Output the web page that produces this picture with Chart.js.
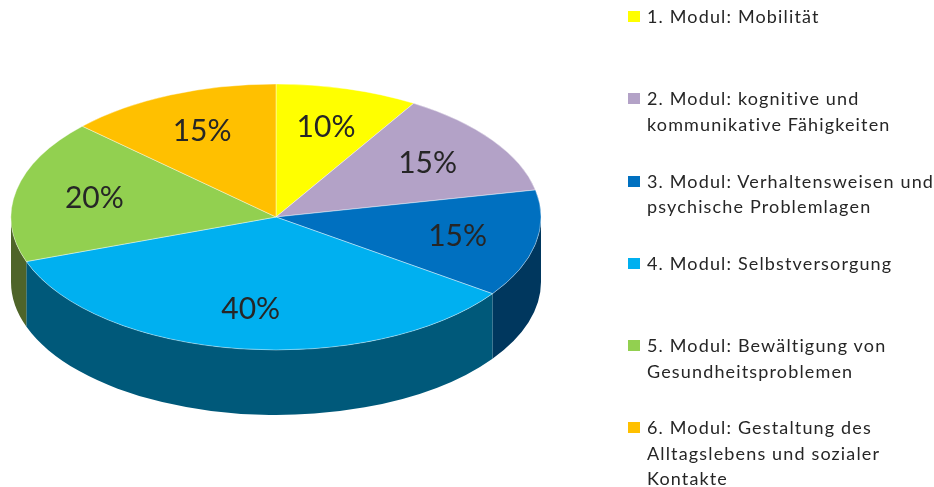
<!DOCTYPE html>
<html>
<head>
<meta charset="utf-8">
<script src="https://cdn.jsdelivr.net/npm/chart.js@4.4.1/dist/chart.umd.min.js"></script>
<style>
  html, body { margin: 0; padding: 0; background: #ffffff; }
  #wrap { position: relative; width: 934px; height: 487px; overflow: hidden; }
  #c { position: absolute; left: 0; top: 0; }
  .lg { position: absolute; left: 628px; font-family: Lato, "Open Sans", sans-serif; font-size: 18px; line-height: 25.5px; color: #262626; white-space: nowrap; letter-spacing: 1.15px; }
  .lg .sw { position: absolute; left: 0; top: 7px; width: 12px; height: 11px; }
  .lg .tx { position: absolute; left: 19px; top: 0; }
</style>
</head>
<body>
<div id="wrap">
  <canvas id="c" width="934" height="487"></canvas>
</div>
<script>
// ---- data ----
const categories = [
  ["1. Modul: Mobilität"],
  ["2. Modul: kognitive und", "kommunikative Fähigkeiten"],
  ["3. Modul: Verhaltensweisen und", "psychische Problemlagen"],
  ["4. Modul: Selbstversorgung"],
  ["5. Modul: Bewältigung von", "Gesundheitsproblemen"],
  ["6. Modul: Gestaltung des", "Alltagslebens und sozialer", "Kontakte"]
];
const values = [10, 15, 15, 40, 20, 15];
const valueLabels = ["10%", "15%", "15%", "40%", "20%", "15%"];

// ---- styles ----
const topColors  = ["#FFFF00", "#B3A2C7", "#0070C0", "#00B0F0", "#92D050", "#FFC000"];
const sideColors = ["#9A9A00", "#6B5D80", "#00375E", "#00597A", "#4E6429", "#A07800"];
const RX = 265, RY = 133, DEPTH = 65, LABEL_R = 0.7;

const pie3d = {
  id: 'pie3d',
  beforeDatasetsDraw(chart) {
    const ctx = chart.ctx;
    const meta = chart.getDatasetMeta(0);
    const a0 = meta.data[0];
    const cx = a0.x, cy = a0.y, r = a0.outerRadius;
    meta.data.forEach((arc, i) => {
      const s = Math.max(arc.startAngle, 0);
      const e = Math.min(arc.endAngle, Math.PI);
      if (e <= s) return;
      ctx.save();
      ctx.beginPath();
      ctx.ellipse(cx, cy, RX, RY, 0, s, e, false);
      ctx.ellipse(cx, cy + DEPTH, RX, RY, 0, e, s, true);
      ctx.closePath();
      ctx.fillStyle = sideColors[i];
      ctx.fill();
      ctx.restore();
    });
    ctx.save();
    ctx.translate(cx, cy);
    ctx.scale(RX / r, RY / r);
    ctx.translate(-cx, -cy);
  },
  afterDatasetsDraw(chart) {
    const ctx = chart.ctx;
    ctx.restore();
    const meta = chart.getDatasetMeta(0);
    const cx = meta.data[0].x, cy = meta.data[0].y;
    ctx.save();
    ctx.font = '30px Lato, "Open Sans", sans-serif';
    ctx.fillStyle = '#262626';
    ctx.textAlign = 'center';
    ctx.textBaseline = 'middle';
    meta.data.forEach((arc, i) => {
      const m = (arc.startAngle + arc.endAngle) / 2;
      const x = cx + RX * LABEL_R * Math.cos(m);
      const y = cy + RY * LABEL_R * Math.sin(m);
      ctx.fillText(valueLabels[i], x, y);
    });
    ctx.restore();
  }
};

new Chart(document.getElementById('c'), {
  type: 'pie',
  data: {
    labels: categories.map(c => c.join(' ')),
    datasets: [{
      data: values,
      backgroundColor: topColors,
      borderColor: 'rgba(255,255,255,0.55)',
      borderWidth: 0.8,
      clip: false
    }]
  },
  options: {
    responsive: false,
    animation: false,
    devicePixelRatio: 1,
    layout: { padding: { left: 0, top: 0, right: 382, bottom: 53 } },
    plugins: { legend: { display: false }, tooltip: { enabled: false } }
  },
  plugins: [pie3d]
});

// ---- HTML legend built from the arrays ----
const wrap = document.getElementById('wrap');
categories.forEach((lines, i) => {
  const d = document.createElement('div');
  d.className = 'lg';
  d.style.top = (17 + 82.2 * i - 12.75) + 'px';
  const sw = document.createElement('div');
  sw.className = 'sw';
  sw.style.background = topColors[i];
  const tx = document.createElement('div');
  tx.className = 'tx';
  tx.innerHTML = lines.join('<br>');
  d.appendChild(sw);
  d.appendChild(tx);
  wrap.appendChild(d);
});
</script>
</body>
</html>
